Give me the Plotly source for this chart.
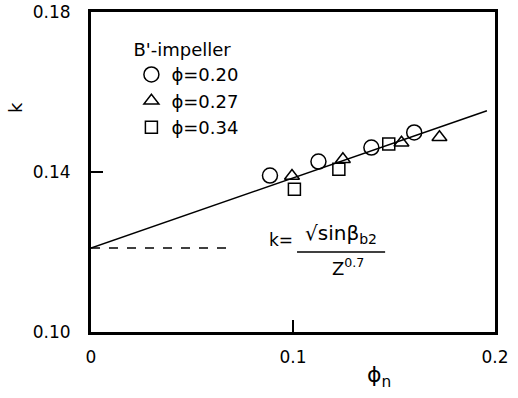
import plotly.graph_objects as go

# Measured points: normalised flow coefficient phi_n vs. slip-related k
circ_phi = [0.0886, 0.1126, 0.1388, 0.1600]
circ_k = [0.1391, 0.1426, 0.1461, 0.1499]

tri_phi = [0.0995, 0.1247, 0.1537, 0.1725]
tri_k = [0.1390, 0.1432, 0.1473, 0.1487]

sq_phi = [0.1007, 0.1227, 0.1474]
sq_k = [0.1357, 0.1407, 0.1470]

# Fitted straight line and the intercept reference
fit_phi = [0.0, 0.196]
fit_k = [0.121, 0.1553]
ref_phi = [0.0, 0.068]
ref_k = [0.121, 0.121]

x_ticks = [0.0, 0.1, 0.2]
x_labels = ["0", "0.1", "0.2"]
y_ticks = [0.10, 0.14, 0.18]
y_labels = ["0.10", "0.14", "0.18"]

FONT = "DejaVu Sans"
marker_line = dict(color="black", width=1.5)

fig = go.Figure()
fig.add_trace(go.Scatter(x=fit_phi, y=fit_k, mode="lines",
                         line=dict(color="black", width=1.5), showlegend=False))
fig.add_trace(go.Scatter(x=ref_phi, y=ref_k, mode="lines",
                         line=dict(color="black", width=1.5, dash="dash"),
                         showlegend=False))
fig.add_trace(go.Scatter(x=circ_phi, y=circ_k, mode="markers", name="ϕ=0.20",
                         marker=dict(symbol="circle-open", size=15, line=marker_line,
                                     color="black")))
fig.add_trace(go.Scatter(x=tri_phi, y=tri_k, mode="markers", name="ϕ=0.27",
                         marker=dict(symbol="triangle-up-open", size=13, line=marker_line,
                                     color="black")))
fig.add_trace(go.Scatter(x=sq_phi, y=sq_k, mode="markers", name="ϕ=0.34",
                         marker=dict(symbol="square-open", size=12, line=marker_line,
                                     color="black")))

axis_common = dict(showgrid=False, zeroline=False, showline=True, linecolor="black",
                   linewidth=3, mirror=True, ticks="inside", tickcolor="black",
                   ticklen=12, tickwidth=1.5, automargin=False,
                   tickfont=dict(family=FONT, size=17, color="black"))

fig.update_xaxes(range=[0, 0.2], tickvals=x_ticks, ticktext=x_labels,
                 ticklabelstandoff=8, **axis_common)
fig.update_yaxes(range=[0.10, 0.18], tickvals=y_ticks, ticktext=y_labels,
                 ticklabelstandoff=14, **axis_common)

fig.update_layout(
    width=518, height=398,
    margin=dict(l=91, r=23, t=12, b=66, autoexpand=False),
    plot_bgcolor="white", paper_bgcolor="white",
    font=dict(family=FONT, color="black"),
    legend=dict(x=0.1, y=0.935, xanchor="left", yanchor="top",
                bgcolor="rgba(0,0,0,0)", font=dict(family=FONT, size=18),
                title=dict(text="B'-impeller", font=dict(family=FONT, size=18)),
                itemwidth=30, tracegroupgap=0),
    annotations=[
        dict(text="k", x=-0.218, y=0.725, xref="paper", yref="paper",
             showarrow=False, textangle=-90, font=dict(size=18)),
        dict(text="ϕ<sub>n</sub>", x=0.748, y=-0.19, xref="paper", yref="paper",
             showarrow=False, font=dict(size=22)),
        dict(text="k=", x=0.47, y=0.25, xref="paper", yref="paper",
             showarrow=False, font=dict(size=17)),
        dict(text="√sinβ<sub>b2</sub>", x=0.62, y=0.258, xref="paper", yref="paper",
             showarrow=False, font=dict(size=20)),
        dict(text="Z<sup>0.7</sup>", x=0.636, y=0.16, xref="paper", yref="paper",
             showarrow=False, font=dict(size=18)),
    ],
    shapes=[
        dict(type="line", xref="paper", yref="paper", x0=0.51, x1=0.728,
             y0=0.25, y1=0.25, line=dict(color="black", width=1.5)),
    ],
)

fig.write_html("out.html")
